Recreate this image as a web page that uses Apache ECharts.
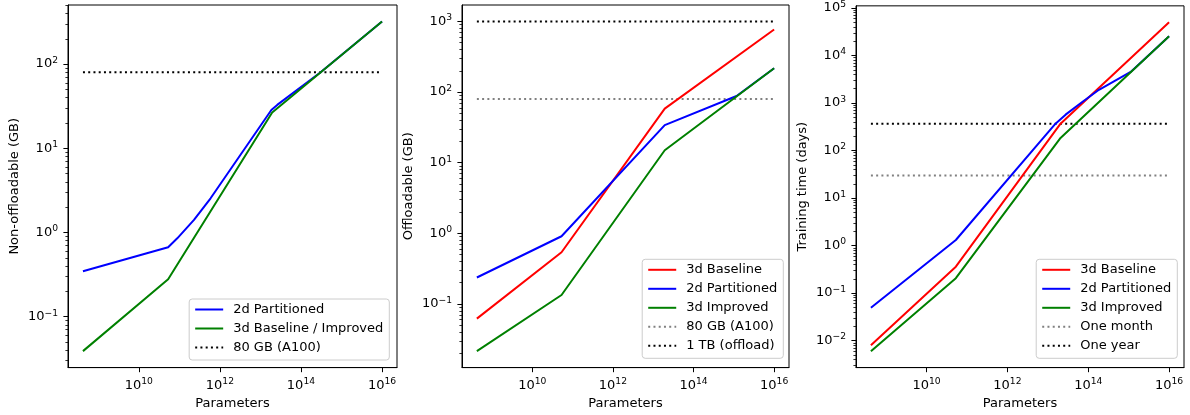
<!DOCTYPE html>
<html><head><meta charset="utf-8">
<script src="https://cdn.jsdelivr.net/npm/echarts@6/dist/echarts.min.js"></script>
<style>html,body{margin:0;padding:0;background:#fff}#c{width:1190px;height:415px}</style>
</head><body><div id="c"></div>
<script>
// ================= DATA =================
const xTickValues = [1e10, 1e12, 1e14, 1e16];

// Panel 1 : Non-offloadable (GB)
const p1Part2dParams = [4.2e8, 5.3e10, 8.9e10, 2.3e11, 5.9e11, 1.86e13, 2.6e13, 3.0e14, 1e16];
const p1Part2dGB     = [0.346, 0.667, 0.853, 1.41, 2.55, 28.5, 32.8, 79.4, 321];
const p1Base3dParams = [4.2e8, 5.3e10, 1.95e13, 1e16];
const p1Base3dGB     = [0.039, 0.278, 26.6, 321];
const p1A100GB = 80;
const p1YTickValues = [0.1, 1, 10, 100];

// Panel 2 : Offloadable (GB)
const p2Base3dParams = [4.2e8, 5.3e10, 1.93e13, 1e16];
const p2Base3dGB     = [0.062, 0.54, 58.4, 771];
const p2Part2dParams = [4.2e8, 5.3e10, 1.93e13, 1.17e15, 1e16];
const p2Part2dGB     = [0.237, 0.91, 34.1, 88, 218];
const p2Impr3dParams = [4.2e8, 5.3e10, 1.93e13, 1e16];
const p2Impr3dGB     = [0.0215, 0.134, 15, 218];
const p2A100GB = 80;
const p2OffloadGB = 1000;
const p2YTickValues = [0.1, 1, 10, 100, 1000];

// Panel 3 : Training time (days)
const p3Base3dParams = [4.2e8, 5.3e10, 2.0e13, 1e16];
const p3Base3dDays   = [0.008, 0.36, 356, 50000];
const p3Part2dParams = [4.2e8, 5.3e10, 1.55e13, 2.75e13, 7.1e13, 1.84e14, 1.12e15, 1e16];
const p3Part2dDays   = [0.049, 1.31, 368, 570, 1050, 1900, 4500, 25400];
const p3Impr3dParams = [4.2e8, 5.3e10, 2.0e13, 1e16];
const p3Impr3dDays   = [0.006, 0.206, 179, 25400];
const p3MonthDays = 30;
const p3YearDays = 365;
const p3YTickValues = [0.01, 0.1, 1, 10, 100, 1000, 10000, 100000];

// ================= HELPERS =================
const FONT = 'DejaVu Sans';
const pairs = (xs, ys) => xs.map((x, i) => [x, ys[i]]);
const flat = (xs, v) => [[xs[0], v], [xs[xs.length - 1], v]];
function logRange(vals) {
  const lo = Math.log10(Math.min(...vals)), hi = Math.log10(Math.max(...vals));
  const pad = 0.05 * (hi - lo);
  return [Math.pow(10, lo - pad), Math.pow(10, hi + pad)];
}
function minorTicks(range) {
  const out = [];
  for (let e = Math.floor(Math.log10(range[0])) - 1; e <= Math.ceil(Math.log10(range[1])); e++) {
    for (let k = 2; k <= 9; k++) {
      const v = k * Math.pow(10, e);
      if (v >= range[0] && v <= range[1]) out.push(v);
    }
  }
  return out;
}
function powLabel(v) {
  const e = Math.round(Math.log10(v));
  return '{b|10}{s|' + (e < 0 ? '\u2212' + (-e) : e) + '}';
}
const rich = {
  b: { fontSize: 13, lineHeight: 16, fontFamily: FONT, color: '#000' },
  s: { fontSize: 9.2, lineHeight: 7, verticalAlign: 'top', fontFamily: FONT, color: '#000' }
};

const allX = [].concat(p1Part2dParams, p1Base3dParams, p2Base3dParams, p2Part2dParams, p2Impr3dParams,
                       p3Base3dParams, p3Part2dParams, p3Impr3dParams);
const xRange = logRange(allX);
const y1Range = logRange([].concat(p1Part2dGB, p1Base3dGB, [p1A100GB]));
const y2Range = logRange([].concat(p2Base3dGB, p2Part2dGB, p2Impr3dGB, [p2A100GB, p2OffloadGB]));
const y3Range = logRange([].concat(p3Base3dDays, p3Part2dDays, p3Impr3dDays, [p3MonthDays, p3YearDays]));

const grids = [
  { left: 68, top: 5, width: 329, height: 363 },
  { left: 462, top: 5, width: 327, height: 363 },
  { left: 856, top: 5, width: 328, height: 363 }
].map(g => Object.assign({ show: true, borderColor: '#000', borderWidth: 1, backgroundColor: 'transparent' }, g));

const xAxes = [0, 1, 2].map(i => ({
  type: 'log', logBase: 10, gridIndex: i, min: xRange[0], max: xRange[1],
  name: 'Parameters', nameLocation: 'middle', nameGap: 28,
  nameTextStyle: { fontSize: 13, fontFamily: FONT, color: '#000' },
  axisLine: { show: true, onZero: false, lineStyle: { color: '#000', width: 1 } },
  axisTick: { show: true, length: 4.6, lineStyle: { color: '#000', width: 1 }, customValues: xTickValues },
  axisLabel: { show: true, margin: 10, customValues: xTickValues, formatter: powLabel, rich: rich },
  splitLine: { show: false }, minorTick: { show: false }
}));

const yNames = ['Non-offloadable (GB)', 'Offloadable (GB)', 'Training time (days)'];
const yRanges = [y1Range, y2Range, y3Range];
const yTicks = [p1YTickValues, p2YTickValues, p3YTickValues];
const yAxes = [];
[0, 1, 2].forEach(i => {
  yAxes.push({
    type: 'log', logBase: 10, gridIndex: i, position: 'left', min: yRanges[i][0], max: yRanges[i][1],
    name: yNames[i], nameLocation: 'middle', nameGap: 47, nameRotate: 90,
    nameTextStyle: { fontSize: 13, fontFamily: FONT, color: '#000' },
    axisLine: { show: true, onZero: false, lineStyle: { color: '#000', width: 1 } },
    axisTick: { show: true, length: 4.6, lineStyle: { color: '#000', width: 1 }, customValues: yTicks[i] },
    axisLabel: { show: true, margin: 10, customValues: yTicks[i], formatter: powLabel, rich: rich },
    splitLine: { show: false }
  });
  yAxes.push({
    type: 'log', logBase: 10, gridIndex: i, position: 'left', offset: 0, min: yRanges[i][0], max: yRanges[i][1],
    axisLine: { show: false },
    axisTick: { show: true, length: 2.6, lineStyle: { color: '#000', width: 0.8 }, customValues: minorTicks(yRanges[i]) },
    axisLabel: { show: false },
    splitLine: { show: false }
  });
});

const RED = '#ff0000', BLUE = '#0000ff', GREEN = '#008000', BLACK = '#000000', GRAY = '#808080';
function line(name, panel, data, color, dotted) {
  return {
    type: 'line', name: name, xAxisIndex: panel, yAxisIndex: panel * 2, data: data,
    symbol: 'none', showSymbol: false, smooth: false, animation: false, z: dotted ? 2 : 3,
    lineStyle: { color: color, width: 2, type: dotted ? [2, 3.25] : 'solid', cap: 'butt', join: 'round' },
    itemStyle: { color: color }, emphasis: { disabled: true }
  };
}

const series = [
  line('2d Partitioned#1', 0, pairs(p1Part2dParams, p1Part2dGB), BLUE),
  line('3d Baseline / Improved#1', 0, pairs(p1Base3dParams, p1Base3dGB), GREEN),
  line('80 GB (A100)#1', 0, flat(p1Base3dParams, p1A100GB), BLACK, true),

  line('3d Baseline#2', 1, pairs(p2Base3dParams, p2Base3dGB), RED),
  line('2d Partitioned#2', 1, pairs(p2Part2dParams, p2Part2dGB), BLUE),
  line('3d Improved#2', 1, pairs(p2Impr3dParams, p2Impr3dGB), GREEN),
  line('80 GB (A100)#2', 1, flat(p2Base3dParams, p2A100GB), GRAY, true),
  line('1 TB (offload)#2', 1, flat(p2Base3dParams, p2OffloadGB), BLACK, true),

  line('3d Baseline#3', 2, pairs(p3Base3dParams, p3Base3dDays), RED),
  line('2d Partitioned#3', 2, pairs(p3Part2dParams, p3Part2dDays), BLUE),
  line('3d Improved#3', 2, pairs(p3Impr3dParams, p3Impr3dDays), GREEN),
  line('One month#3', 2, flat(p3Base3dParams, p3MonthDays), GRAY, true),
  line('One year#3', 2, flat(p3Base3dParams, p3YearDays), BLACK, true)
];

function legend(names, right, top) {
  return {
    data: names, orient: 'vertical', right: right, top: top,
    itemWidth: 28, itemHeight: 14, itemGap: 6,
    padding: [4, 6, 6, 5],
    backgroundColor: 'rgba(255,255,255,0.8)', borderColor: '#cccccc', borderWidth: 1, borderRadius: 3,
    selectedMode: false,
    itemStyle: { opacity: 0 },
    formatter: n => n.split('#')[0],
    textStyle: { fontSize: 13, fontFamily: FONT, color: '#000', padding: [0, 0, 0, 5] }
  };
}

const option = {
  animation: false,
  backgroundColor: '#ffffff',
  grid: grids,
  xAxis: xAxes,
  yAxis: yAxes,
  legend: [
    legend(['2d Partitioned#1', '3d Baseline / Improved#1', '80 GB (A100)#1'], 800.7, 299),
    legend(['3d Baseline#2', '2d Partitioned#2', '3d Improved#2', '80 GB (A100)#2', '1 TB (offload)#2'], 406.7, 259.3),
    legend(['3d Baseline#3', '2d Partitioned#3', '3d Improved#3', 'One month#3', 'One year#3'], 12.7, 259.3)
  ],
  series: series
};

const chart = echarts.init(document.getElementById('c'), null, { renderer: 'canvas' });
chart.setOption(option);
</script>
</body></html>
